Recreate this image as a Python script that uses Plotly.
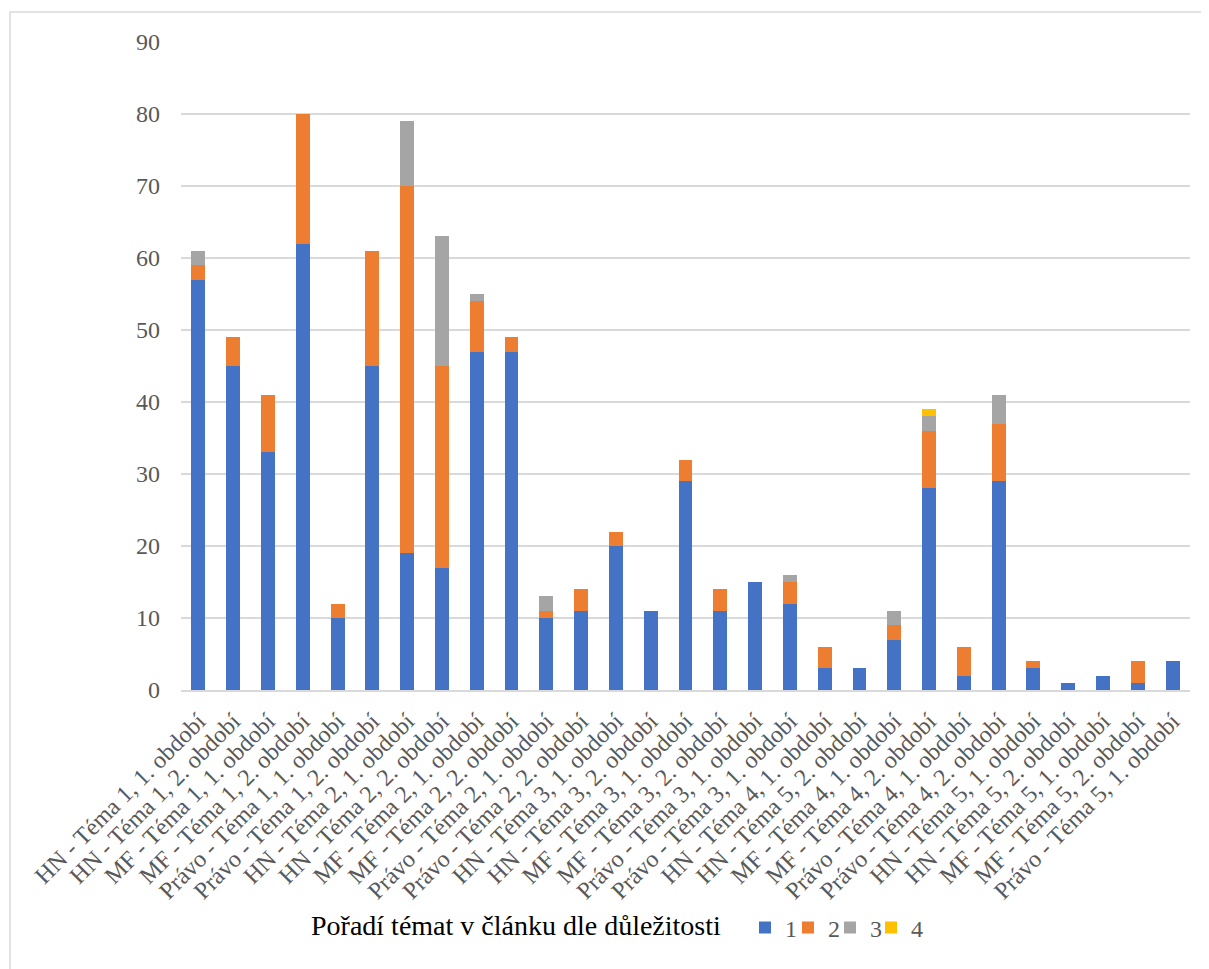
import plotly.graph_objects as go

categories = [
    "HN - Téma 1, 1. období", "HN - Téma 1, 2. období",
    "MF - Téma 1, 1. období", "MF - Téma 1, 2. období",
    "Právo - Téma 1, 1. období", "Právo - Téma 1, 2. období",
    "HN - Téma 2, 1. období", "HN - Téma 2, 2. období",
    "MF - Téma 2, 1. období", "MF - Téma 2, 2. období",
    "Právo - Téma 2, 1. období", "Právo - Téma 2, 2. období",
    "HN - Téma 3, 1. období", "HN - Téma 3, 2. období",
    "MF - Téma 3, 1. období", "MF - Téma 3, 2. období",
    "Právo - Téma 3, 1. období", "Právo - Téma 3, 1. období",
    "HN - Téma 4, 1. období", "HN - Téma 5, 2. období",
    "MF - Téma 4, 1. období", "MF - Téma 4, 2. období",
    "Právo - Téma 4, 1. období", "Právo - Téma 4, 2. období",
    "HN - Téma 5, 1. období", "HN - Téma 5, 2. období",
    "MF - Téma 5, 1. období", "MF - Téma 5, 2. období",
    "Právo - Téma 5, 1. období",
]

rank_1 = [57, 45, 33, 62, 10, 45, 19, 17, 47, 47, 10, 11, 20, 11, 29, 11, 15, 12, 3, 3, 7, 28, 2, 29, 3, 1, 2, 1, 4]
rank_2 = [2, 4, 8, 18, 2, 16, 51, 28, 7, 2, 1, 3, 2, 0, 3, 3, 0, 3, 3, 0, 2, 8, 4, 8, 1, 0, 0, 3, 0]
rank_3 = [2, 0, 0, 0, 0, 0, 9, 18, 1, 0, 2, 0, 0, 0, 0, 0, 0, 1, 0, 0, 2, 2, 0, 4, 0, 0, 0, 0, 0]
rank_4 = [0, 0, 0, 0, 0, 0, 0, 0, 0, 0, 0, 0, 0, 0, 0, 0, 0, 0, 0, 0, 0, 1, 0, 0, 0, 0, 0, 0, 0]

series_names = ["1", "2", "3", "4"]
series_values = [rank_1, rank_2, rank_3, rank_4]
series_colors = ["#4472C4", "#ED7D31", "#A5A5A5", "#FFC000"]

y_ticks = [0, 10, 20, 30, 40, 50, 60, 70, 80, 90]
axis_title = "Pořadí témat v článku dle důležitosti"

positions = list(range(len(categories)))

SERIF = "Liberation Serif, Times New Roman, serif"

# figure is offset by the 8px page margin
W, H = 1201, 961
L, T, R, B = 173, 34, 19, 279
PW = W - L - R
PH = H - T - B


def px(xp):
    return (xp - 8 - L) / PW


def py(yp):
    return (H - B - (yp - 8)) / PH


legend_ids = ["legend", "legend2", "legend3", "legend4"]
swatch_left = [761, 804, 846, 887]

fig = go.Figure()
for name, vals, col, lid in zip(series_names, series_values, series_colors, legend_ids):
    fig.add_trace(go.Bar(
        x=positions, y=vals, name=name, legend=lid,
        marker=dict(color=col, line=dict(width=0)),
    ))

legend_layout = {}
for lid, sx in zip(legend_ids, swatch_left):
    legend_layout[lid] = dict(
        orientation="h",
        x=px(sx - 16), y=py(928), xanchor="left", yanchor="middle",
        font=dict(family=SERIF, size=24, color="#595959"),
        itemwidth=30,
        bgcolor="rgba(0,0,0,0)",
    )

fig.update_layout(
    width=W, height=H,
    barmode="stack",
    bargap=0.6,
    paper_bgcolor="white",
    plot_bgcolor="white",
    margin=dict(l=L, r=R, t=T, b=B),
    font=dict(family=SERIF, color="#595959"),
    showlegend=True,
    xaxis=dict(
        tickmode="array",
        tickvals=positions,
        ticktext=categories,
        tickangle=-45,
        range=[-0.5, len(categories) - 0.5],
        showgrid=False,
        showline=True,
        linecolor="#D9D9D9",
        linewidth=1.5,
        ticks="",
        tickfont=dict(family=SERIF, size=24, color="#595959"),
        ticklabelstandoff=6,
        zeroline=False,
    ),
    yaxis=dict(
        range=[0, 90],
        tickmode="array",
        tickvals=y_ticks,
        showgrid=True,
        gridcolor="#D9D9D9",
        gridwidth=1.5,
        zeroline=False,
        showline=False,
        ticks="",
        tickfont=dict(family=SERIF, size=24, color="#595959"),
        ticklabelstandoff=20,
    ),
    annotations=[dict(
        text=axis_title,
        xref="paper", yref="paper",
        x=px(309), y=py(925),
        xanchor="left", yanchor="middle",
        showarrow=False,
        font=dict(family=SERIF, size=28, color="black"),
    )],
    shapes=[dict(
        type="rect", xref="paper", yref="paper",
        x0=px(10), x1=1.2,
        y0=-1.0, y1=py(12),
        line=dict(color="#D9D9D9", width=1.5),
        fillcolor="rgba(0,0,0,0)",
        layer="below",
    )],
    **legend_layout,
)

fig.write_html("out.html")
